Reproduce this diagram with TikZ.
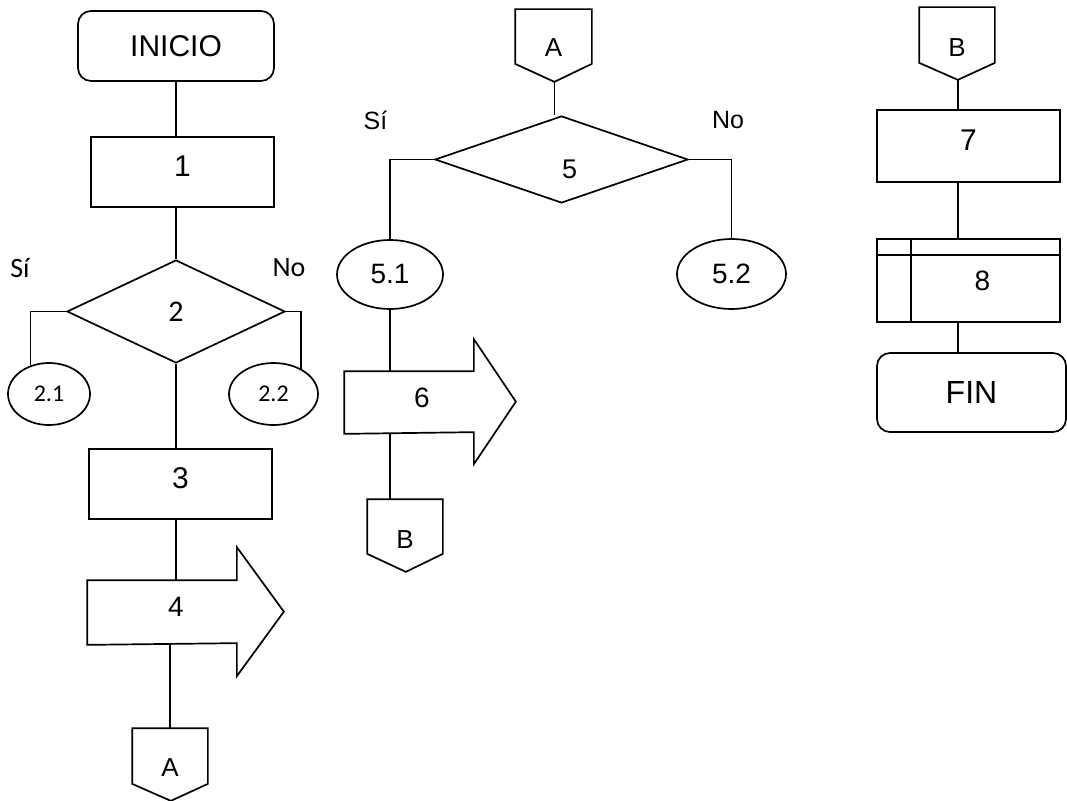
\documentclass[tikz,border=0pt]{standalone}
\usepackage{fontspec}
\setmainfont{Liberation Sans}
\newfontfamily\calibfont{Carlito}
\usetikzlibrary{calc,shapes.geometric}

\begin{document}
\begin{tikzpicture}[x=1pt,y=-1pt,line width=1.7pt,
		grande/.style={font=\fontsize{30}{36}\selectfont},
		medio/.style={font=\fontsize{28}{32}\selectfont},
		chico/.style={font=\fontsize{25}{30}\selectfont},
		calib/.style={font=\calibfont\fontsize{28}{32}\selectfont},
		calibchico/.style={font=\calibfont\fontsize{24}{28}\selectfont},
		caja/.style={draw,rectangle,inner sep=0pt,text depth=12pt,grande},
		term/.style={draw,rectangle,rounded corners=13pt,inner sep=0pt,grande},
		rombo/.style={draw,diamond,inner sep=0pt},
		elipse/.style={draw,ellipse,inner sep=0pt},
		conec/.style={rectangle,inner sep=0pt,minimum width=74pt,minimum height=54pt},
		flecha/.style={rectangle,inner sep=0pt}]
	\useasboundingbox (0,0) rectangle (1067,800);

	% columna 1
	\node[term,minimum width=196pt,minimum height=70pt] (ini) at (176,46) {INICIO};
	\node[caja,minimum width=183pt,minimum height=70pt] (b1) at (182.5,172) {1};
	\node[rombo,aspect=2.12,minimum width=218pt,minimum height=103pt,font=\calibfont\fontsize{30}{34}\selectfont] (d2) at (176,311.5) {2};
	\node[elipse,minimum width=82pt,minimum height=62pt,calibchico] (e21) at (49,394) {2.1};
	\node[elipse,minimum width=89pt,minimum height=62pt,calibchico] (e22) at (273.5,394) {2.2};
	\node[caja,minimum width=183pt,minimum height=70pt] (b3) at (180.5,484) {3};
	\node[flecha,minimum width=148pt,minimum height=63pt,label={[medio,xshift=14pt,yshift=6pt]center:4}] (a4) at (162,612.5) {};
	\node[conec,label={[font=\fontsize{26}{30}\selectfont,yshift=-12pt]center:A}] (cA1) at (170,756) {};
	\node[calib] (si2) at (20,268) {Sí};
	\node[calib] (no2) at (289,268) {No};

	\draw (a4.north west) -- (a4.north east) -- ++(0,-33) -- ++(47,64.5) -- ++(-47,64.5) -- ++(0,-33) -- (a4.south west) -- cycle;
	\draw (cA1.north west) -- (cA1.north east) -- (cA1.south east) -- ++(-37,17) -- (cA1.south west) -- cycle;

	\draw (ini.south) -- (ini.south |- b1.north);
	\draw (b1.south -| ini.south) -- (d2.north);
	\draw (d2.west) -| (e21.123);
	\draw (d2.east) -| (e22.43);
	\draw (d2.south) -- (d2.south |- b3.north);
	\draw (d2.south |- b3.south) -- (d2.south |- a4.north);
	\draw (a4.south -| cA1.north) -- (cA1.north);

	% columna 2
	\node[conec,minimum width=75pt,minimum height=53pt,label={[font=\fontsize{26}{30}\selectfont,yshift=-11pt]center:A}] (cA2) at (553.5,36.5) {};
	\node[rombo,aspect=2.9,minimum width=253pt,minimum height=87pt,label={[font=\fontsize{27}{30}\selectfont,xshift=8pt,yshift=-10pt]center:5}] (d5) at (561.5,159.5) {};
	\node[elipse,minimum width=106pt,minimum height=69pt,medio] (e51) at (390,274.5) {5.1};
	\node[elipse,minimum width=109pt,minimum height=70pt,medio] (e52) at (731.5,274) {5.2};
	\node[flecha,minimum width=128pt,minimum height=61pt,label={[medio,xshift=13pt,yshift=5pt]center:6}] (a6) at (409,402.5) {};
	\node[conec,minimum height=53pt,label={[font=\fontsize{26}{30}\selectfont,yshift=-13pt]center:B}] (cB2) at (405,526.5) {};
	\node[chico] (si5) at (375.5,120) {Sí};
	\node[chico] (no5) at (728,120) {No};

	\draw (cA2.north west) -- (cA2.north east) -- (cA2.south east) -- ++(-37.5,18) coordinate (pA2) -- (cA2.south west) -- cycle;
	\draw (a6.north west) -- (a6.north east) -- ++(0,-32) -- ++(42,62.5) -- ++(-42,62.5) -- ++(0,-32) -- (a6.south west) -- cycle;
	\draw (cB2.north west) -- (cB2.north east) -- (cB2.south east) -- ++(-37,18) -- (cB2.south west) -- cycle;

	\draw (pA2) -- (pA2 |- d5.north);
	\draw (d5.west) -| (e51.north);
	\draw (d5.east) -| (e52.north);
	\draw (e51.south) -- (e51.south |- a6.north);
	\draw (e51.south |- a6.south) -- (e51.south |- cB2.north);

	% columna 3
	\node[conec,label={[font=\fontsize{26}{30}\selectfont,yshift=-13pt]center:B}] (cB3) at (957,35) {};
	\node[caja,minimum width=183pt,minimum height=72pt] (b7) at (968.5,146) {7};
	\node[draw,rectangle,inner sep=0pt,minimum width=183pt,minimum height=83pt,label={[medio,xshift=14pt]center:8}] (b8) at (968.5,280.5) {};
	\node[term,minimum width=189pt,minimum height=79pt,font=\fontsize{32}{36}\selectfont] (fin) at (971.5,392.5) {FIN};

	\draw (cB3.north west) -- (cB3.north east) -- (cB3.south east) -- ++(-37,17) coordinate (pB3) -- (cB3.south west) -- cycle;
	\draw ([shift={(0,17)}]b8.north west) -- ([shift={(0,17)}]b8.north east);
	\draw ([shift={(35,0)}]b8.north west) -- ([shift={(35,0)}]b8.south west);

	\draw (pB3) -- (pB3 |- b7.north);
	\draw (b7.south -| pB3) -- (b8.north -| pB3);
	\draw (b8.south -| pB3) -- (fin.north -| pB3);
\end{tikzpicture}
\end{document}
